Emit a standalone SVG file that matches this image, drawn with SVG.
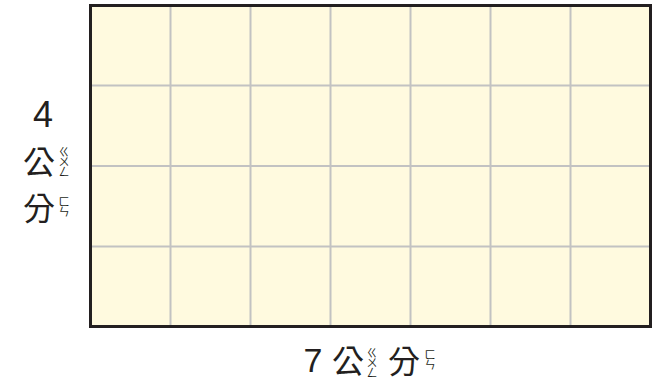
<svg xmlns="http://www.w3.org/2000/svg" width="666" height="381" viewBox="0 0 666 381">
<style>
.grid{stroke:#c2c2c2;stroke-width:2;fill:none}
.num{font-family:"Liberation Sans","Noto Sans",sans-serif;fill:#231f20}
.cjk{font-family:"Noto Sans CJK TC","Noto Sans CJK SC",sans-serif;fill:#231f20}
.zy{font-family:"Noto Sans CJK TC","Noto Sans CJK SC",sans-serif;fill:#231f20;font-size:11px;letter-spacing:-1px;writing-mode:vertical-rl}
</style>
<rect width="666" height="381" fill="#ffffff"/>
<g id="board">
<rect x="90.5" y="5.5" width="560" height="321" fill="#fffadf"/>
<g class="grid">
<line x1="170.5" y1="5.5" x2="170.5" y2="326.5"/>
<line x1="250.5" y1="5.5" x2="250.5" y2="326.5"/>
<line x1="330.5" y1="5.5" x2="330.5" y2="326.5"/>
<line x1="410.5" y1="5.5" x2="410.5" y2="326.5"/>
<line x1="490.5" y1="5.5" x2="490.5" y2="326.5"/>
<line x1="570.5" y1="5.5" x2="570.5" y2="326.5"/>
<line x1="90.5" y1="85.5" x2="650.5" y2="85.5"/>
<line x1="90.5" y1="166" x2="650.5" y2="166"/>
<line x1="90.5" y1="246.5" x2="650.5" y2="246.5"/>
</g>
<rect x="90.5" y="5.5" width="560" height="321" fill="none" stroke="#231f20" stroke-width="3"/>
</g>
<g id="height-label">
<text class="num" x="43" y="127" font-size="36" text-anchor="middle">4</text>
<text class="cjk" x="23" y="174" font-size="32">公</text>
<text class="zy" x="64" y="146">ㄍㄨㄥ</text>
<text class="cjk" x="23" y="220" font-size="32">分</text>
<text class="zy" x="64" y="196">ㄈㄣ</text>
</g>
<g id="width-label">
<text class="num" x="313" y="372" font-size="34" text-anchor="middle">7</text>
<text class="cjk" x="332" y="373" font-size="32">公</text>
<text class="zy" x="372" y="347">ㄍㄨㄥ</text>
<text class="cjk" x="388" y="373" font-size="32">分</text>
<text class="zy" x="430" y="349">ㄈㄣ</text>
</g>
</svg>
